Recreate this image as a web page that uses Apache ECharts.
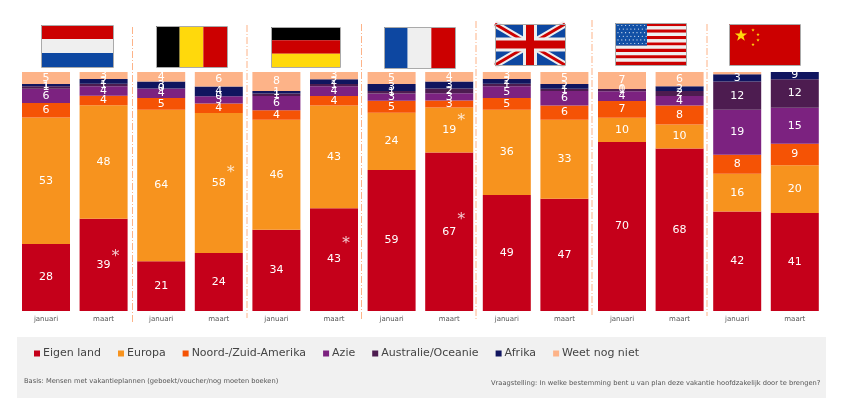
<!DOCTYPE html>
<html><head><meta charset="utf-8">
<style>html,body{margin:0;padding:0;background:#fff}#c{width:843px;height:405px}</style>
<script src="https://cdn.jsdelivr.net/npm/echarts@6/dist/echarts.min.js"></script>
</head><body><div id="c"></div>
<script>
const months = ['januari','maart','januari','maart','januari','maart','januari','maart','januari','maart','januari','maart','januari','maart'];
const eigenLand = [28,39,21,24,34,43,59,67,49,47,70,68,42,41];
const europa    = [53,48,64,58,46,43,24,19,36,33,10,10,16,20];
const amerika   = [6,4,5,4,4,4,5,3,5,6,7,8,8,9];
const azie      = [6,4,4,3,6,4,3,3,5,6,4,4,19,15];
const oceanie   = [1,1,0,0,1,1,1,2,1,1,1,2,12,12];
const afrika    = [1,2,3,4,1,2,3,3,2,2,0,2,3,3];
const afrikaLabels = ['1','2','3','4','1','2','3','3','2','2','0','2','3','9'];
const weetNiet  = [5,3,4,6,8,3,5,4,3,5,7,6,1,0];
const seriesNames = ['Eigen land','Europa','Noord-/Zuid-Amerika','Azie','Australie/Oceanie','Afrika','Weet nog niet'];
const seriesValues = [eigenLand,europa,amerika,azie,oceanie,afrika,weetNiet];
const seriesColors = ['#c5001a','#f7931e','#f55305','#7c2280','#4d1c50','#10155f','#fdb388'];
const asterisks = [[1,22.6],[5,28],[7,38],[7,79.5],[3,58]];
const basis = 'Basis: Mensen met vakantieplannen (geboekt/voucher/nog moeten boeken)';
const vraag = 'Vraagstelling: In welke bestemming bent u van plan deze vakantie hoofdzakelijk door te brengen?';

const totals = months.map((_,i)=>seriesValues.reduce((s,a)=>s+a[i],0));
const R='#cc0000',B='#0d47a1',W='#efefef',Y='#ffd90c',K='#000000';
const g=[];
g.push({type:'rect',z:-10,shape:{x:17,y:337,width:809,height:61},style:{fill:'#f1f1f1'}});
function rect(x,y,w,h,fill){g.push({type:'rect',z:5,shape:{x,y,width:w,height:h},style:{fill}});}
function frame(x,y,w,h){g.push({type:'rect',z:7,shape:{x:x+.5,y:y+.5,width:w,height:h},style:{fill:'none',stroke:'#aaaaaa',lineWidth:1}});}
function hflag(x,y,w,h,cols){cols.forEach((c,i)=>rect(x,y+i*h/3,w,h/3,c));frame(x,y,w,h);}
function vflag(x,y,w,h,cols){cols.forEach((c,i)=>rect(x+i*w/3,y,w/3,h,c));frame(x,y,w,h);}
hflag(41,25,72,42,[R,W,B]);
vflag(156,26,71,41,[K,Y,R]);
hflag(271,27,69,40,[K,R,Y]);
vflag(384,27,71,41,[B,W,R]);
// UK
(function(x,y,w,h){
 rect(x,y,w,h,B);
 const ln=(a,b,c,d,col,lw)=>g.push({type:'line',z:6,shape:{x1:a,y1:b,x2:c,y2:d},style:{stroke:col,lineWidth:lw}});
 ln(x,y,x+w,y+h,'#eee',7);ln(x+w,y,x,y+h,'#eee',7);
 ln(x,y,x+w,y+h,R,3);ln(x+w,y,x,y+h,R,3);
 g.push({type:'rect',z:6,shape:{x:x+w/2-7,y,width:14,height:h},style:{fill:'#eee'}});
 g.push({type:'rect',z:6,shape:{x,y:y+h/2-7,width:w,height:14},style:{fill:'#eee'}});
 g.push({type:'rect',z:6,shape:{x:x+w/2-4,y,width:8,height:h},style:{fill:R}});
 g.push({type:'rect',z:6,shape:{x,y:y+h/2-4,width:w,height:8},style:{fill:R}});
 frame(x,y,w,h);
})(495,24,70,41);
// US
(function(x,y,w,h){
 for(let i=0;i<13;i++)rect(x,y+i*h/13,w,h/13,i%2?W:R);
 g.push({type:'rect',z:6,shape:{x,y,width:32,height:h*7/13},style:{fill:'#1250a5'}});
 for(let r=0;r<6;r++)for(let c=0;c<8;c++)g.push({type:'circle',z:6,shape:{cx:x+3+c*3.8+(r%2)*1.5,cy:y+2.5+r*3.6,r:.6},style:{fill:'#dfe8f5'}});
 frame(x,y,w,h);
})(615,23,71,42);
// China
(function(x,y,w,h){
 rect(x,y,w,h,R);
 const star=(cx,cy,r)=>{const p=[];for(let i=0;i<10;i++){const a=-Math.PI/2+i*Math.PI/5,q=i%2?r*.4:r;p.push([cx+q*Math.cos(a),cy+q*Math.sin(a)]);}
  g.push({type:'polygon',z:6,shape:{points:p},style:{fill:Y}});};
 star(741,35.5,6.5);star(753,30,1.8);star(758,34.5,1.8);star(758,40,1.8);star(753,44.5,1.8);
 frame(x,y,w,h);
})(729,24,71,41);
// separators
[[132.5,27,322],[247,25,318],[361.5,24,321],[476,21,321],[592,20,316],[707,24,316]].forEach(s=>{
 g.push({type:'line',z:1,shape:{x1:s[0],y1:s[1],x2:s[0],y2:s[2]},style:{stroke:'#fdb388',lineWidth:1,lineDash:[7,2,1,2]}});
});
g.push({type:'text',z:5,style:{x:24,y:378,text:basis,font:'6.7px "DejaVu Sans"',fill:'#555'}});
g.push({type:'text',z:5,style:{x:491,y:380,text:vraag,font:'6.7px "DejaVu Sans"',fill:'#555'}});

const labelOf=(k,i)=>k===5?afrikaLabels[i]:String(seriesValues[k][i]);
const bars=seriesNames.map((name,k)=>({
 name,type:'bar',stack:'t',barWidth:48,
 data:seriesValues[k].map((v,i)=>v/totals[i]*100),
 itemStyle:{color:seriesColors[k]},
 label:{show:true,position:'inside',color:'#fff',fontFamily:'DejaVu Sans',fontSize:11,
  formatter:p=>(k===6&&seriesValues[k][p.dataIndex]<2)?'':labelOf(k,p.dataIndex)},
 labelLayout:{hideOverlap:false},
 z:2
}));
const stars={type:'scatter',name:'sig',data:asterisks,symbolSize:0,silent:true,z:4,
 label:{show:true,position:'inside',offset:[12,0],formatter:'*',color:'#fff',fontFamily:'DejaVu Sans',fontSize:16}};
const chart=echarts.init(document.getElementById('c'),null,{renderer:'canvas'});
chart.setOption({
 animation:false,backgroundColor:'#fff',
 grid:{left:17.2,top:72,width:806.4,height:239},
 xAxis:{type:'category',data:months,axisLine:{show:false},axisTick:{show:false},
  axisLabel:{interval:0,color:'#555',fontFamily:'DejaVu Sans',fontSize:7,margin:5}},
 yAxis:{type:'value',min:0,max:100,show:false},
 legend:{data:seriesNames,left:29,top:343,itemWidth:6,itemHeight:6,itemGap:17,icon:'rect',
  textStyle:{color:'#444',fontFamily:'DejaVu Sans',fontSize:11,padding:[0,0,0,-2]}},
 graphic:g,
 series:[...bars,stars]
});
</script></body></html>
